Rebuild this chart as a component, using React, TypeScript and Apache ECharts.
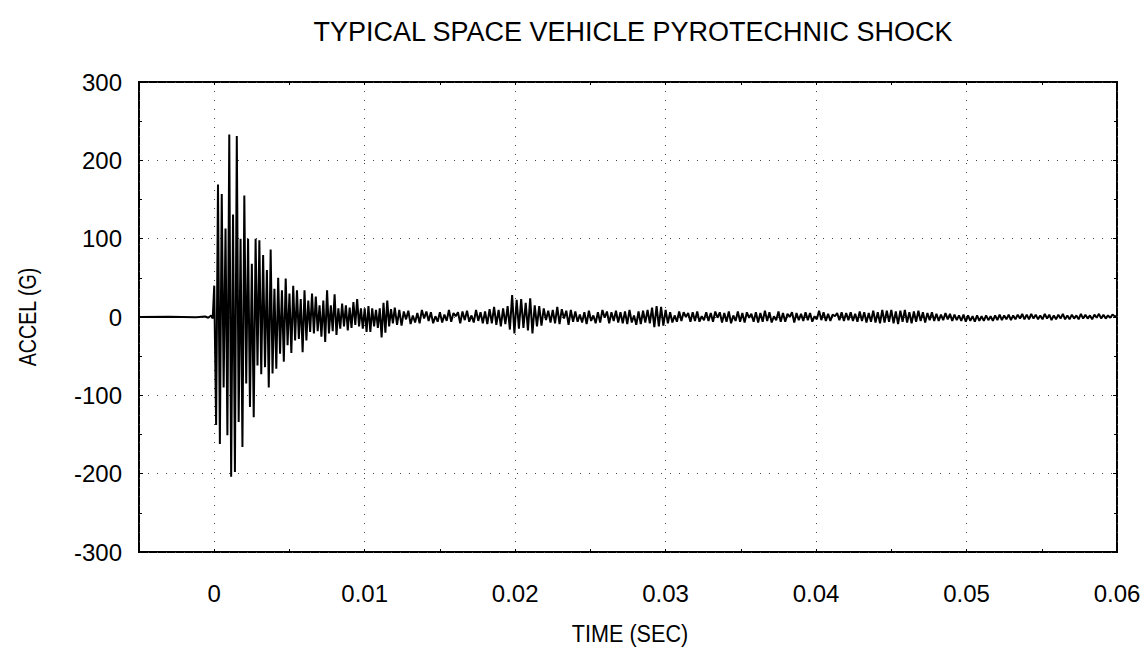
import React, { useEffect, useRef } from "react";
import * as echarts from "echarts";

// ---- Data ----
const TITLE = "TYPICAL SPACE VEHICLE PYROTECHNIC SHOCK";
const X_NAME = "TIME (SEC)";
const Y_NAME = "ACCEL (G)";

// Pre-trigger segment (sec, G)
const PRE_TIMES = [-0.005, -0.003, -0.0012, -0.0006, -0.0004, -0.0002, -0.0001];
const PRE_VALUES = [0, 0.3, -0.3, 0.6, -1, 2, -2];

// Main burst: samples every 0.000125 s starting at t = 0
const BURST_START = 0;
const BURST_DT = 0.000125;
const BURST_VALUES = [
  40, -138, 169, -162, 157, -90, 113, -151, 233, -204,
  131, -198, 231, -134, 100, -166, 155, -85, 100, -115,
  68, -128, 100, -62, 98, -73, 79, -64, 60, -90,
  86, -72, 36, -66, 50, -47, 34, -57, 49, -36,
  30, -46, 40, -30, 34, -28, 23, -45, 34, -30,
  21, -19, 30, -21, 26, -18, 15, -25, 21, -32,
  34, -21, 15, -18, 29, -23, 11, -15, 17, -12,
  15, -17, 12, -14, 19, -10, 23, -12, 11, -15,
  11, -19, 14, -19, 11, -12, 9, -14, 11, -26,
  18, -20, 21, -12, 10, -8,
];

// Tail: samples every 0.00015 s starting at t = 0.012
const TAIL_START = 0.012;
const TAIL_DT = 0.00015;
const TAIL_VALUES = [
  12, -10, 9, -11, 7, -3, 8, -9, 2, -7, 5, -8, 9, -2, 7, -5, 6, -8, 1, -6,
  6, -7, 3, -5, 9, -6, 5, 1, 6, -8, 7, -4, 8, -6, 2, -7, 9, -5, 6, -8,
  7, -9, 10, -8, 13, -10, 9, -12, 11, -9, 14, -16, 28, -21, 22, -15, 23, -14, 18, -17,
  24, -21, 15, -12, 14, -11, 11, -4, 8, -7, 9, -8, 13, -9, 10, -2, 8, -10, 9, -6,
  7, -6, 3, -7, 6, -9, 8, -5, 2, -8, 6, -7, 9, -1, 7, -8, 6, -5, 8, -7,
  6, -8, 7, -9, 9, -7, 2, -10, 7, -9, 8, -7, 9, -8, 12, -13, 14, -12, 13, -11,
  9, -8, 6, -7, 2, -6, 7, -5, 6, 0, 5, -6, 6, -5, 7, -6, 1, -4, 6, -5,
  5, -6, 7, -1, 6, -7, 5, -6, 7, -8, 2, -5, 7, -6, 5, -7, 6, -1, 4, -6,
  6, -7, 5, -6, 8, -5, 6, -7, 1, -4, 7, -6, 5, -6, 4, 0, 6, -7, 5, -4,
  4, -5, 6, -4, 5, -6, 1, -3, 8, -4, 6, -5, 4, -5, 3, 1, 5, -4, 6, -5,
  5, -4, 6, -5, 4, -6, 7, -5, 6, -7, 5, -6, 8, -7, 6, -8, 9, -7, 8, -6,
  9, -8, 7, -9, 8, -6, 9, -7, 6, -8, 7, -6, 8, -5, 6, -7, 5, -4, 6, -5,
  4, -5, 3, -4, 5, -3, 4, -5, 3, -4, 2, -5, 3, -6, 2, -5, 1, -6, 2, -5,
  1, -5, 2, -4, 1, -5, 2, -4, 3, -4, 2, -3, 3, -4, 2, -3, 3, -2, 4, -3,
  3, -3, 4, -2, 3, -3, 2, -3, 4, -2, 3, -4, 2, -3, 3, -2, 4, -3, 2, -3,
  3, -2, 2, -3, 4, -2, 3, -2, 2, -3, 3, -1, 4, -2, 3, -2, 2, -1, 3, 1,
];
const END_POINT = [0.06, 1];

const X_MIN = -0.005;
const X_MAX = 0.06;
const Y_MIN = -300;
const Y_MAX = 300;
const Y_INTERVAL = 100;
const X_TICK_STEP = 0.005;

function buildData(): number[][] {
  const pts: number[][] = [];
  PRE_TIMES.forEach((t, i) => pts.push([t, PRE_VALUES[i]]));
  BURST_VALUES.forEach((v, i) => pts.push([BURST_START + i * BURST_DT, v]));
  TAIL_VALUES.forEach((v, i) => pts.push([TAIL_START + i * TAIL_DT, v]));
  pts.push(END_POINT);
  return pts;
}

const FONT = "'Liberation Sans', Arial, Helvetica, sans-serif";

export default function App() {
  const ref = useRef<HTMLDivElement>(null);
  useEffect(() => {
    if (!ref.current) return;
    const chart = echarts.init(ref.current, null, { renderer: "svg" });
    const tickStyle = { color: "#000", width: 1 };
    const dotted = { color: "#444", width: 1, type: [1, 8] };
    const noLine = { show: false, onZero: false };
    chart.setOption({
      animation: false,
      backgroundColor: "#fff",
      grid: {
        left: 139,
        top: 82,
        right: 31,
        bottom: 96,
        show: true,
        borderColor: "#000",
        borderWidth: 2,
        backgroundColor: "transparent",
      },
      graphic: [
        {
          type: "text",
          x: 633,
          y: 32,
          style: {
            text: TITLE,
            fontSize: 27,
            fontFamily: FONT,
            fill: "#000",
            textAlign: "center",
            textVerticalAlign: "middle",
          },
        },
        {
          type: "text",
          x: 630,
          y: 634,
          scaleX: 0.9,
          style: {
            text: X_NAME,
            fontSize: 24,
            fontFamily: FONT,
            fill: "#000",
            textAlign: "center",
            textVerticalAlign: "middle",
          },
        },
        {
          type: "text",
          x: 28,
          y: 317,
          rotation: Math.PI / 2,
          scaleX: 0.82,
          style: {
            text: Y_NAME,
            fontSize: 24,
            fontFamily: FONT,
            fill: "#000",
            textAlign: "center",
            textVerticalAlign: "middle",
          },
        },
      ],
      xAxis: [
        {
          type: "value",
          min: X_MIN,
          max: X_MAX,
          splitNumber: 7,
          axisLine: noLine,
          axisTick: { show: false },
          axisLabel: {
            fontSize: 24,
            fontFamily: FONT,
            color: "#000",
            margin: 29,
            formatter: (v: number) => (v < -1e-9 ? "" : String(+v.toFixed(3))),
          },
          splitLine: { show: true, lineStyle: dotted },
        },
        {
          type: "value",
          min: X_MIN,
          max: X_MAX,
          interval: X_TICK_STEP,
          position: "bottom",
          axisLine: noLine,
          axisTick: { show: true, inside: true, length: 3, lineStyle: tickStyle },
          axisLabel: { show: false },
          splitLine: { show: false },
        },
        {
          type: "value",
          min: X_MIN,
          max: X_MAX,
          interval: X_TICK_STEP,
          position: "top",
          axisLine: noLine,
          axisTick: { show: true, inside: true, length: 3, lineStyle: tickStyle },
          axisLabel: { show: false },
          splitLine: { show: false },
        },
      ],
      yAxis: [
        {
          type: "value",
          min: Y_MIN,
          max: Y_MAX,
          interval: Y_INTERVAL,
          position: "left",
          axisLine: noLine,
          axisTick: { show: true, inside: true, length: 4, lineStyle: tickStyle },
          minorTick: { show: true, splitNumber: 2, length: 3, lineStyle: tickStyle },
          axisLabel: {
            fontSize: 24,
            fontFamily: FONT,
            color: "#000",
            margin: 17,
          },
          splitLine: { show: true, lineStyle: dotted },
        },
        {
          type: "value",
          min: Y_MIN,
          max: Y_MAX,
          interval: Y_INTERVAL,
          position: "right",
          axisLine: noLine,
          axisTick: { show: true, inside: true, length: 4, lineStyle: tickStyle },
          minorTick: { show: true, splitNumber: 2, length: 3, lineStyle: tickStyle },
          axisLabel: { show: false },
          splitLine: { show: false },
        },
      ],
      series: [
        {
          type: "line",
          xAxisIndex: 0,
          yAxisIndex: 0,
          data: buildData(),
          showSymbol: false,
          symbol: "none",
          clip: true,
          lineStyle: { color: "#000", width: 2 },
          z: 3,
        },
      ],
    });
    return () => chart.dispose();
  }, []);
  return (
    <div
      ref={ref}
      style={{ position: "absolute", left: 0, top: 0, width: 1148, height: 648 }}
    />
  );
}
